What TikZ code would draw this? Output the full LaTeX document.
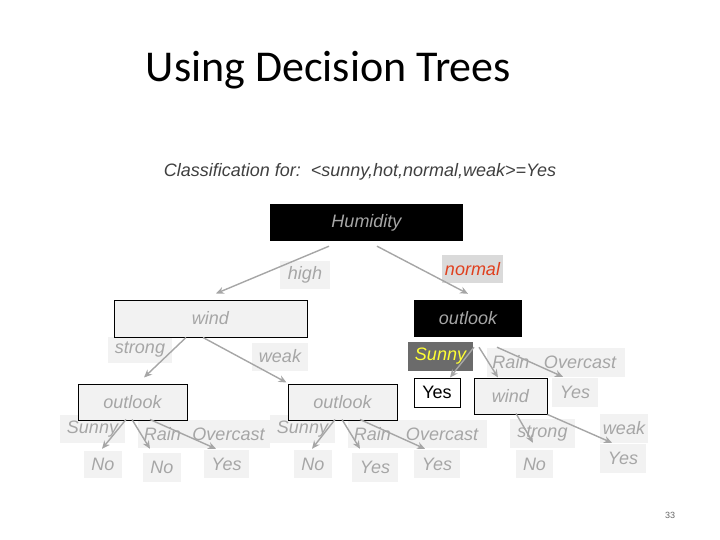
\documentclass[tikz,border=0pt]{standalone}
\usepackage{fontspec}
\setmainfont{Liberation Sans}
\newfontfamily\titlefont{Carlito}
\usetikzlibrary{arrows.meta}
\definecolor{txtgray}{HTML}{A6A6A6}
\definecolor{lbg}{HTML}{F2F2F2}
\definecolor{nbg}{HTML}{DADADA}
\definecolor{sbg}{HTML}{6B6B6B}
\definecolor{redtxt}{HTML}{E0401E}
\definecolor{yeltxt}{HTML}{FFFF33}
\tikzset{
  txt/.style={font=\fontsize{18}{20}\selectfont\itshape},
  lbl/.style={txt, fill=lbg, text=txtgray, inner sep=0pt, minimum height=28pt, minimum width=#1},
  lbl/.default=50pt,
  boxw/.style={txt, draw=black, line width=1pt, fill=lbg, text=txtgray, inner sep=0pt, minimum width=#1, minimum height=36pt},
  boxb/.style={txt, fill=black, text=txtgray, inner sep=0pt, minimum width=#1, minimum height=37pt},
  arr/.style={draw=txtgray, line width=1.4pt, -{Stealth[length=8pt,width=7pt]}}
}
\begin{document}
\begin{tikzpicture}[x=1pt,y=-1pt]
\useasboundingbox (0,0) rectangle (720,540);
% title
\node[font=\titlefont\fontsize{44}{48}\selectfont, anchor=base] (title) at (328.5,82) {Using Decision Trees};
\node[txt, text=black!75, anchor=base] (cls) at (360,177) {Classification for:\ \ <sunny,hot,normal,weak>=Yes};
% labels
\node[lbl=50pt] (lhigh) at (305,275) {high};
\node[lbl=61pt, fill=nbg, text=redtxt] (lnormal) at (472.5,269) {normal};
\node[lbl=64pt, minimum height=26pt] (lstrong) at (140,350) {strong};
\node[lbl=56pt] (lweak) at (280,356.5) {weak};
\node[lbl=65pt] (lsun1) at (92.5,429) {Sunny};
\node[lbl=49pt] (lrain1) at (162.5,434) {Rain};
\node[lbl=83pt] (lover1) at (228.5,434) {Overcast};
\node[lbl=65pt] (lsun2) at (302.5,429) {Sunny};
\node[lbl=49pt] (lrain2) at (372.5,434) {Rain};
\node[lbl=90pt] (lover2) at (442,434) {Overcast};
\node[lbl=65pt, minimum height=29pt, fill=sbg, text=yeltxt] (lsun3) at (440.5,356.5) {Sunny};
\node[lbl=48pt, minimum height=29pt] (lrain3) at (511,362.5) {Rain};
\node[lbl=90pt, minimum height=29pt] (lover3) at (580,362.5) {Overcast};
\node[lbl=65pt, minimum height=29pt] (lstrong2) at (542.5,433.5) {strong};
\node[lbl=48pt, minimum height=29pt] (lweak2) at (624,428.5) {weak};
% leaves
\node[lbl=38pt, minimum height=27pt] (no1) at (103,464.5) {No};
\node[lbl=38pt, minimum height=29pt] (no2) at (162,467.5) {No};
\node[lbl=45pt] (yes1) at (226.5,464) {Yes};
\node[lbl=38pt] (no3) at (313,464) {No};
\node[lbl=46pt, minimum height=29pt] (yes2) at (375,467.5) {Yes};
\node[lbl=46pt] (yes3) at (437,464) {Yes};
\node[lbl=46pt, minimum height=29pt] (yes4) at (575,392.5) {Yes};
\node[lbl=37pt] (no4) at (534.5,464) {No};
\node[lbl=46pt, minimum height=29pt] (yes5) at (623,458.5) {Yes};
% boxes
\node[boxb=193pt] (hum) at (366.5,222.5) {Humidity};
\node[boxw=193pt, minimum height=37pt] (wind) at (210.5,318.5) {wind};
\node[boxb=108pt] (ob) at (468,318.5) {outlook};
\node[boxw=109pt] (lo) at (132.5,402) {outlook};
\node[boxw=109pt] (mo) at (342.5,402) {outlook};
\node[draw=black, line width=1pt, fill=white, text=black, font=\fontsize{18}{20}\selectfont, inner sep=0pt, minimum width=46pt, minimum height=29pt] (yesb) at (437,392.5) {Yes};
\node[boxw=73pt] (windr) at (510.5,396) {wind};
% arrows
\draw[arr] ([shift={(-37.5,5)}]hum.south) -- ([shift={(5.5,-6)}]wind.north);
\draw[arr] ([shift={(10.5,5)}]hum.south) -- ([shift={(0,-6)}]ob.north);
\draw[arr] ([shift={(-24.5,0)}]wind.south) -- ([shift={(11.5,-6)}]lo.north);
\draw[arr] ([shift={(-7.5,0)}]wind.south) -- ([shift={(-1,-1)}]mo.north west);
\draw[arr] ([shift={(-6.5,-1)}]lo.south) -- ([shift={(-1,-2)}]no1.north);
\draw[arr] ([shift={(-0.5,-1)}]lo.south) -- ([shift={(-12,-4)}]no2.north);
\draw[arr] ([shift={(17.5,-1)}]lo.south) -- ([shift={(-10.5,-1)}]yes1.north);
\draw[arr] ([shift={(-7.5,-1)}]mo.south) -- ([shift={(-1,-1)}]no3.north);
\draw[arr] ([shift={(-0.5,-1)}]mo.south) -- ([shift={(-15,-4)}]yes2.north);
\draw[arr] ([shift={(17.5,-1)}]mo.south) -- ([shift={(-12,-1)}]yes3.north);
\draw[arr] ([shift={(6,10)}]ob.south) -- ([shift={(13,0)}]yesb.north);
\draw[arr] ([shift={(11,10)}]ob.south) -- ([shift={(-12.5,0)}]windr.north);
\draw[arr] ([shift={(29,10)}]ob.south) -- ([shift={(-12,-1)}]yes4.north);
\draw[arr] ([shift={(5.5,-1)}]windr.south) -- ([shift={(-1.5,-7)}]no4.north);
\draw[arr] ([shift={(0,0)}]windr.south east) -- ([shift={(-11,-1)}]yes5.north);
% page number
\node[font=\fontsize{9}{10}\selectfont, text=black!60] (pg) at (670,515) {33};
\end{tikzpicture}
\end{document}
